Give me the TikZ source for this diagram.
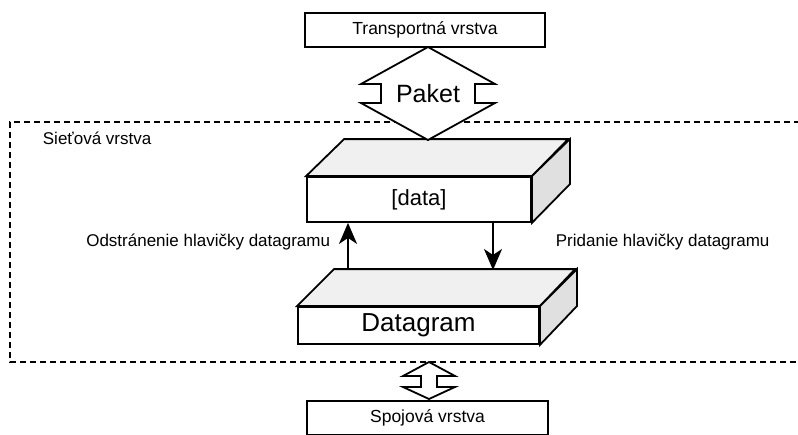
\documentclass[tikz,border=0pt]{standalone}
\usepackage{fontspec}
\setmainfont{Liberation Sans}
\usepackage{tikz}
\usetikzlibrary{arrows.meta,calc}
\definecolor{boxtop}{RGB}{240,240,240}
\definecolor{boxside}{RGB}{224,224,224}

\begin{document}
\begin{tikzpicture}[
    x=1pt, y=-1pt,
    line width=1.8pt,
    layer/.style={rectangle, draw, fill=white, line width=1.8pt, minimum width=240pt, minimum height=34pt, font=\fontsize{17.5}{20}\selectfont},
    front/.style={rectangle, draw, fill=white, line width=1.8pt, inner sep=0pt},
    topface/.style={draw, fill=boxtop, line join=miter},
    sideface/.style={draw, fill=boxside, line join=miter},
    dblarrow/.style={draw, fill=white, line join=miter},
    frame/.style={dashed, dash pattern=on 6pt off 4pt, line width=1.8pt},
    label/.style={font=\fontsize{17}{20}\selectfont, inner sep=0pt},
    arrow/.style={-{Stealth[length=21pt, width=18pt, inset=6pt]}, line width=1.8pt}
]
    \clip (0,0) rectangle (798,434);

    % Network layer frame
    \draw[frame] (800,122) -- (10,122) -- (10,362) -- (800,362);
    \node[label, anchor=west] (netlayer) at (42,138) {Sieťová vrstva};

    % Upper and lower layers
    \node[layer] (transport) at (425,30) {Transportná vrstva};
    \node[layer, minimum width=241pt, anchor=north] (link) at (427.5,400) {Spojová vrstva};

    % Data block
    \node[front, minimum width=224pt, minimum height=45pt, font=\fontsize{22}{24}\selectfont] (data) at (419,199.5) {[data]};
    \draw[topface] (data.north west) -- ++(38,-37) -- ++(224,0) -- (data.north east) -- cycle;
    \draw[sideface] (data.north east) -- ++(38,-37) -- ++(0,45) -- (data.south east) -- cycle;

    % Datagram block
    \node[front, minimum width=241pt, minimum height=37pt, font=\fontsize{26}{28}\selectfont] (dgram) at (418.5,325.5) {Datagram};
    \draw[topface] (dgram.north west) -- ++(37,-37) -- ++(241,0) -- (dgram.north east) -- cycle;
    \draw[sideface] (dgram.north east) -- ++(37,-37) -- ++(0,37) -- (dgram.south east) -- cycle;

    % Paket arrow
    \draw[dblarrow] (428,47) -- (495,84) -- (475,84) -- (475,103) -- (495,103) -- (428,140)
        -- (361,103) -- (381,103) -- (381,84) -- (361,84) -- cycle;
    \node[font=\fontsize{25}{27}\selectfont] (paket) at (428,94) {Paket};

    % Small arrow to link layer
    \draw[dblarrow] (429,362) -- (455,376) -- (437,376) -- (437,387) -- (455,387) -- (429,399)
        -- (403,387) -- (421,387) -- (421,376) -- (403,376) -- cycle;

    % Header arrows
    \coordinate (remove) at (348,270);
    \coordinate (add) at (493,270);
    \draw[arrow] (remove) -- (remove |- data.south);
    \draw[arrow] (add |- data.south) -- (add);
    \node[label, anchor=east] (removelbl) at (331,242) {Odstránenie hlavičky datagramu};
    \node[label, anchor=west] (addlbl) at (555,242) {Pridanie hlavičky datagramu};
\end{tikzpicture}
\end{document}
